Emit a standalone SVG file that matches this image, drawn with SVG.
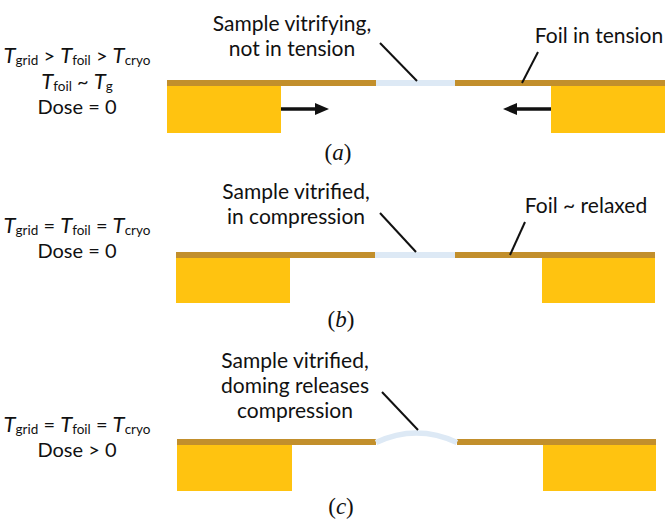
<svg xmlns="http://www.w3.org/2000/svg" width="665" height="519" viewBox="0 0 665 519">
<style>
.t{font-family:Lato,"Open Sans","Liberation Sans",sans-serif;font-size:21px;fill:#111;text-anchor:middle}
.c{font-family:Lato,"Open Sans","Liberation Sans",sans-serif;font-size:20px;fill:#111;text-anchor:middle}
.sub{font-size:13.5px}
.it{font-style:italic;font-size:22px}
.cap{font-family:"Liberation Serif","Times New Roman",serif;font-size:23px;fill:#111;text-anchor:middle}
.foil{fill:#C28F2C}
.grid{fill:#FFC310}
.samp{fill:#DDE9F5}
.lead{stroke:#111;stroke-width:2;fill:none}
.arr{stroke:#111;stroke-width:3.5;fill:none}
.head{fill:#111}
</style>
<rect width="665" height="519" fill="#fff"/>

<!-- Panel a -->
<g id="panel-a">
<g id="a-conditions">
<text class="c" x="77" y="63"><tspan class="it">T</tspan><tspan class="sub" baseline-shift="-2">grid</tspan> &gt; <tspan class="it">T</tspan><tspan class="sub" baseline-shift="-2">foil</tspan> &gt; <tspan class="it">T</tspan><tspan class="sub" baseline-shift="-2">cryo</tspan></text>
<text class="c" x="77" y="89"><tspan class="it">T</tspan><tspan class="sub" baseline-shift="-2">foil</tspan> ~ <tspan class="it">T</tspan><tspan class="sub" baseline-shift="-2">g</tspan></text>
<text class="c" x="77" y="114">Dose = 0</text>
</g>
<g id="a-grid">
<rect class="grid" x="167" y="86" width="114" height="47"/>
<rect class="grid" x="551" y="86" width="114" height="47"/>
</g>
<g id="a-foil">
<rect class="foil" x="167" y="80" width="209" height="6"/>
<rect class="foil" x="455" y="80" width="210" height="6"/>
</g>
<g id="a-sample"><rect class="samp" x="376" y="80" width="79" height="6"/></g>
<g id="a-label-sample">
<text class="t" x="292" y="31">Sample vitrifying,</text>
<text class="t" x="292" y="56">not in tension</text>
</g>
<g id="a-label-foil"><text class="t" x="599" y="43">Foil in tension</text></g>
<g id="a-caption"><text class="cap" x="338" y="160">(<tspan font-style="italic">a</tspan>)</text></g>
</g>

<!-- Panel b -->
<g id="panel-b">
<g id="b-conditions">
<text class="c" x="77" y="233"><tspan class="it">T</tspan><tspan class="sub" baseline-shift="-2">grid</tspan> = <tspan class="it">T</tspan><tspan class="sub" baseline-shift="-2">foil</tspan> = <tspan class="it">T</tspan><tspan class="sub" baseline-shift="-2">cryo</tspan></text>
<text class="c" x="77" y="258">Dose = 0</text>
</g>
<g id="b-grid">
<rect class="grid" x="176" y="258" width="114" height="45"/>
<rect class="grid" x="542" y="258" width="113" height="45"/>
</g>
<g id="b-foil">
<rect class="foil" x="176" y="252" width="199" height="6"/>
<rect class="foil" x="455" y="252" width="200" height="6"/>
</g>
<g id="b-sample"><rect class="samp" x="375" y="252" width="80" height="6"/></g>
<g id="b-label-sample">
<text class="t" x="296" y="199">Sample vitrified,</text>
<text class="t" x="296" y="224">in compression</text>
</g>
<g id="b-label-foil"><text class="t" x="586" y="213">Foil ~ relaxed</text></g>
<g id="b-caption"><text class="cap" x="341" y="327">(<tspan font-style="italic">b</tspan>)</text></g>
</g>

<!-- Panel c -->
<g id="panel-c">
<g id="c-conditions">
<text class="c" x="77" y="432"><tspan class="it">T</tspan><tspan class="sub" baseline-shift="-2">grid</tspan> = <tspan class="it">T</tspan><tspan class="sub" baseline-shift="-2">foil</tspan> = <tspan class="it">T</tspan><tspan class="sub" baseline-shift="-2">cryo</tspan></text>
<text class="c" x="77" y="457">Dose &gt; 0</text>
</g>
<g id="c-grid">
<rect class="grid" x="177" y="445" width="115" height="46"/>
<rect class="grid" x="543" y="445" width="113" height="46"/>
</g>
<g id="c-foil">
<rect class="foil" x="177" y="439" width="199" height="6"/>
<rect class="foil" x="457" y="439" width="199" height="6"/>
</g>
<g id="c-sample"><path d="M376,442.5 Q416.5,423.5 457,442.5" stroke="#DDE9F5" stroke-width="5.5" fill="none"/></g>
<g id="c-label-sample">
<text class="t" x="295" y="368">Sample vitrified,</text>
<text class="t" x="295" y="393">doming releases</text>
<text class="t" x="295" y="418">compression</text>
</g>
<g id="c-caption"><text class="cap" x="341" y="514">(<tspan font-style="italic">c</tspan>)</text></g>
</g>

<!-- Connectors -->
<g id="connectors">
<line class="lead" x1="380" y1="43" x2="417" y2="81"/>
<line class="lead" x1="538" y1="52" x2="522" y2="83"/>
<line class="arr" x1="281" y1="109" x2="318" y2="109"/>
<path class="head" d="M315,103 L329,109 L315,115 Z"/>
<line class="arr" x1="551" y1="109" x2="514" y2="109"/>
<path class="head" d="M517,103 L503,109 L517,115 Z"/>
<line class="lead" x1="380" y1="213" x2="416" y2="252"/>
<line class="lead" x1="525" y1="222" x2="510" y2="255"/>
<line class="lead" x1="382" y1="392" x2="418" y2="430"/>
</g>
</svg>
